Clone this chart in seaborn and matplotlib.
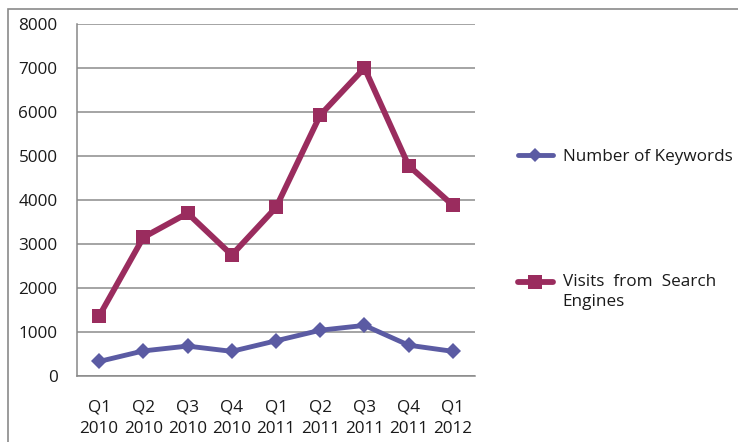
import matplotlib
matplotlib.use("Agg")
import matplotlib.pyplot as plt
from matplotlib.legend_handler import HandlerLine2D
import seaborn as sns
import pandas as pd
import numpy as np

quarters = ["Q1\n2010", "Q2\n2010", "Q3\n2010", "Q4\n2010", "Q1\n2011",
            "Q2\n2011", "Q3\n2011", "Q4\n2011", "Q1\n2012"]
keywords = [330, 570, 680, 560, 800, 1040, 1150, 700, 560]
visits = [1360, 3150, 3700, 2750, 3830, 5930, 7000, 4780, 3880]
series_names = ["Number of Keywords", "Visits  from  Search\nEngines"]
yticks = [0, 1000, 2000, 3000, 4000, 5000, 6000, 7000, 8000]

sns.set_style("white")
plt.rcParams["font.family"] = ["Open Sans", "DejaVu Sans"]

df = pd.DataFrame({
    "x": list(range(len(quarters))) * 2,
    "value": keywords + visits,
    "series": [series_names[0]] * len(quarters) + [series_names[1]] * len(quarters),
})

colors = {series_names[0]: "#5B5BA3", series_names[1]: "#9A2C5E"}
FS = 12.3
TXT = "#1a1a1a"


class RaisedHandler(HandlerLine2D):
    def __init__(self, shift, **kw):
        super().__init__(**kw)
        self.shift = shift

    def create_artists(self, legend, orig_handle, xdescent, ydescent, width,
                       height, fontsize, trans):
        arts = super().create_artists(legend, orig_handle, xdescent, ydescent,
                                      width, height, fontsize, trans)
        for a in arts:
            a.set_ydata(np.asarray(a.get_ydata(), dtype=float) + self.shift * fontsize)
        return arts


fig = plt.figure(figsize=(7.38, 4.42), dpi=100)
ax = fig.add_axes([77 / 738, 1 - 376 / 442, (475 - 77) / 738, (376 - 24) / 442])

# outer frame
fig.patches.append(plt.Rectangle((8 / 738, -0.1), 1.0, 1 - 9 / 442 + 0.1,
                                 transform=fig.transFigure, fill=False,
                                 edgecolor="#8a8a8a", linewidth=1.2))

sns.lineplot(data=df, x="x", y="value", hue="series", style="series",
             markers={series_names[0]: "D", series_names[1]: "s"},
             dashes=False, palette=colors, ax=ax, legend=False)

lines = ax.get_lines()
lines[0].set_linewidth(3.5)
lines[0].set_markersize(8.5)
lines[1].set_linewidth(4.2)
lines[1].set_markersize(10.5)
for ln in lines:
    ln.set_markeredgewidth(0)

ax.set_xlim(-0.5, len(quarters) - 0.5)
ax.set_ylim(0, 8000)
ax.set_yticks(yticks)
ax.set_yticklabels([str(v) for v in yticks], fontsize=FS, color=TXT)
ax.set_xticks(range(len(quarters)))
ax.set_xticklabels(quarters, fontsize=FS, color=TXT, linespacing=1.45)
ax.set_xticks(np.arange(-0.5, len(quarters), 1.0), minor=True)
ax.tick_params(axis="x", which="major", length=0, pad=17)
ax.tick_params(axis="x", which="minor", length=6, width=1, color="#888888", direction="out")
ax.tick_params(axis="y", which="major", length=7, width=1, color="#888888", direction="out", pad=7)
ax.set_xlabel("")
ax.set_ylabel("")
ax.grid(axis="y", color="#8c8c8c", linewidth=1.1)
ax.set_axisbelow(True)
for s in ["top", "right"]:
    ax.spines[s].set_visible(False)
for s in ["left", "bottom"]:
    ax.spines[s].set_color("#888888")
    ax.spines[s].set_linewidth(1.1)

handles = [plt.Line2D([], [], color=colors[series_names[0]], marker="D", markersize=7.5,
                      linewidth=3.5, markeredgewidth=0),
           plt.Line2D([], [], color=colors[series_names[1]], marker="s", markersize=9.5,
                      linewidth=4.2, markeredgewidth=0)]
leg = fig.legend(handles, series_names, loc="upper left",
                 bbox_to_anchor=(503 / 738, 1 - 134 / 442),
                 frameon=False, prop={"size": FS}, labelspacing=6.35,
                 handlelength=2.0, handletextpad=0.6, labelcolor=TXT,
                 handler_map={handles[1]: RaisedHandler(0.6)})
for t in leg.get_texts():
    t.set_linespacing(1.35)

fig.savefig("out.png", dpi=100)
